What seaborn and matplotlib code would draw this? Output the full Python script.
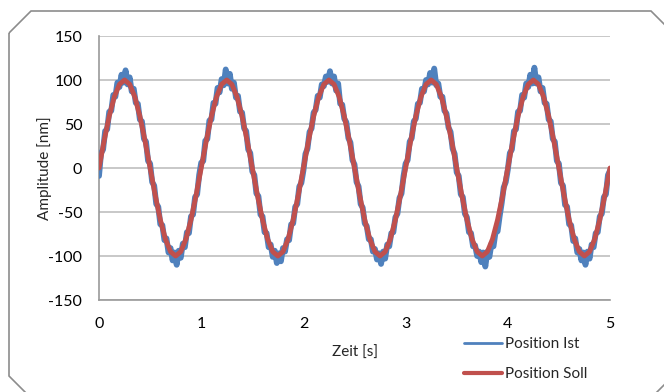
import numpy as np
import pandas as pd
import matplotlib
matplotlib.use("Agg")
import matplotlib.pyplot as plt
import seaborn as sns
from matplotlib.patches import Polygon

ist_nm = [
    -9, 17, 21, 42, 44, 64, 65, 83, 81, 97, 92, 106, 97, 111, 95, 103, 87, 90, 74, 73, 55, 53, 33, 30, 8,
    5, -16, -20, -41, -44, -64, -65, -82, -80, -96, -91, -105, -96, -110, -94, -102, -86, -90, -73, -74, -55, -53, -33, -30, -8,
    6, 8, 31, 33, 54, 55, 74, 73, 91, 86, 101, 94, 112, 96, 107, 90, 97, 80, 82, 64, 63, 45, 42, 21, 17,
    -4, -8, -29, -32, -53, -55, -73, -74, -90, -87, -101, -94, -108, -97, -106, -91, -95, -81, -82, -64, -63, -44, -41, -21, -17,
    -3, 16, 22, 41, 45, 63, 66, 82, 80, 95, 93, 104, 98, 110, 96, 104, 88, 96, 73, 72, 56, 52, 34, 29, 9,
    4, -16, -21, -41, -45, -63, -66, -81, -81, -95, -92, -104, -97, -109, -95, -103, -87, -89, -74, -73, -56, -52, -34, -29, -9,
    5, 9, 30, 34, 53, 56, 73, 74, 90, 87, 100, 95, 108, 97, 113, 94, 96, 81, 81, 65, 62, 46, 41, 22, 16,
    -5, -9, -30, -33, -52, -56, -73, -74, -89, -88, -100, -95, -107, -96, -112, -95, -101, -86, -89, -73, -72, -55, -40, -22, -16,
    -2, 17, 21, 42, 44, 64, 65, 83, 80, 96, 92, 106, 96, 114, 96, 103, 87, 91, 74, 73, 55, 53, 33, 30, 8,
    5, -17, -20, -42, -44, -64, -65, -83, -80, -96, -92, -105, -96, -110, -95, -103, -87, -90, -74, -73, -55, -52, -33, -30, -8,
    -3,
]

# set position (sampled every 0.05 s)
soll_nm = [
    0, 30.9, 58.8, 80.9, 95.1, 100, 95.1, 80.9, 58.8, 30.9,
    0, -30.9, -58.8, -80.9, -95.1, -100, -95.1, -80.9, -58.8, -30.9,
    0, 30.9, 58.8, 80.9, 95.1, 100, 95.1, 80.9, 58.8, 30.9,
    0, -30.9, -58.8, -80.9, -95.1, -100, -95.1, -80.9, -58.8, -30.9,
    0, 30.9, 58.8, 80.9, 95.1, 100, 95.1, 80.9, 58.8, 30.9,
    0, -30.9, -58.8, -80.9, -95.1, -100, -95.1, -80.9, -58.8, -30.9,
    0, 30.9, 58.8, 80.9, 95.1, 100, 95.1, 80.9, 58.8, 30.9,
    0, -30.9, -58.8, -80.9, -95.1, -100, -95.1, -80.9, -58.8, -30.9,
    0, 30.9, 58.8, 80.9, 95.1, 100, 95.1, 80.9, 58.8, 30.9,
    0, -30.9, -58.8, -80.9, -95.1, -100, -95.1, -80.9, -58.8, -30.9,
    0,
]

dt_ist = 0.02
dt_soll = 0.05
x_ticks = [0, 1, 2, 3, 4, 5]
y_ticks = [-150, -100, -50, 0, 50, 100, 150]

ist_df = pd.DataFrame({"t": np.round(np.arange(len(ist_nm)) * dt_ist, 3), "pos": ist_nm})
soll_df = pd.DataFrame({"t": np.round(np.arange(len(soll_nm)) * dt_soll, 3), "pos": soll_nm})

sns.set_style("white")
plt.rcParams['font.family'] = ['Lato', 'DejaVu Sans']
plt.rcParams['axes.unicode_minus'] = False

W, H = 664, 392
fig = plt.figure(figsize=(W / 100, H / 100), dpi=100)
ax = fig.add_axes([99 / W, 1 - 300 / H, (610 - 99) / W, (300 - 36) / H])

blue = '#4F81BD'
red = '#C0504D'
sns.lineplot(data=ist_df, x='t', y='pos', ax=ax, color=blue, linewidth=4.2,
             label='Position Ist', zorder=3)
sns.lineplot(data=soll_df, x='t', y='pos', ax=ax, color=red, linewidth=3.5,
             label='Position Soll', zorder=4)

ax.set_xlim(0, 5)
ax.set_ylim(-150, 150)
ax.set_xticks(x_ticks)
ax.set_yticks(y_ticks)
ax.yaxis.grid(True, color='#BFBFBF', linewidth=1.2)
ax.xaxis.grid(False)
ax.set_axisbelow(True)
for s in ['top', 'right']:
    ax.spines[s].set_visible(False)
for s in ['left', 'bottom']:
    ax.spines[s].set_color('#9A9A9A')
    ax.spines[s].set_linewidth(1.2)
ax.tick_params(axis='both', length=0, labelsize=11.5, colors='black')
ax.tick_params(axis='y', pad=12)
ax.tick_params(axis='x', pad=12)

ax.set_xlabel('Zeit [s]', fontsize=11, labelpad=11)
ax.set_ylabel('Amplitude [nm]', fontsize=11, labelpad=-3)

ax.get_legend().remove()
handles, labels = ax.get_legend_handles_labels()
leg = fig.legend(handles, labels, loc='upper left', bbox_to_anchor=(458 / W, 1 - 331 / H),
                 frameon=False, fontsize=11, handlelength=2.5, handletextpad=0.15,
                 labelspacing=1.05, borderaxespad=0)
leg.get_lines()[0].set_linewidth(2.0)
leg.get_lines()[1].set_linewidth(3.0)

# chamfered chart border
pts = [(9, 33), (31, 11), (651, 11), (673, 33), (673, 376), (651, 398), (31, 398), (9, 376)]
border = Polygon([(x / W, 1 - y / H) for x, y in pts], closed=True, fill=False,
                 edgecolor='#8C8C8C', linewidth=1.2, transform=fig.transFigure,
                 clip_on=False)
fig.patches.append(border)

fig.savefig('out.png', dpi=100)
